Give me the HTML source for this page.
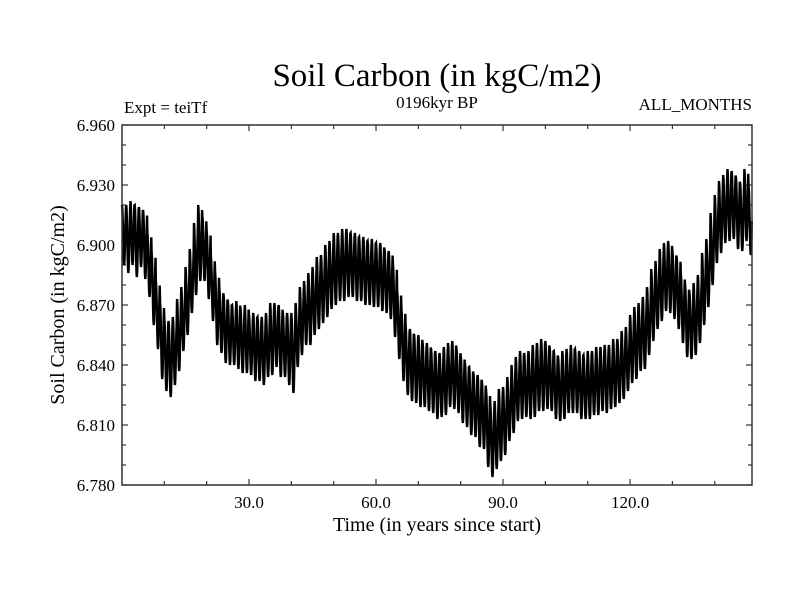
<!DOCTYPE html>
<html><head><meta charset="utf-8"><style>
html,body{margin:0;padding:0;background:#fff;}
svg{display:block;font-family:"Liberation Serif",serif;}
</style></head><body>
<svg id="chart" width="800" height="600" viewBox="0 0 800 600">
<rect x="0" y="0" width="800" height="600" fill="#fff"/>
<text x="437" y="86" font-size="33" text-anchor="middle">Soil Carbon (in kgC/m2)</text>
<text x="124" y="113" font-size="17">Expt = teiTf</text>
<text x="437" y="108" font-size="17" text-anchor="middle">0196kyr BP</text>
<text x="752" y="110" font-size="17" text-anchor="end">ALL_MONTHS</text>
<text transform="translate(64,305) rotate(-90)" font-size="20" text-anchor="middle">Soil Carbon (in kgC/m2)</text>
<text x="437" y="531" font-size="20" text-anchor="middle">Time (in years since start)</text>
<g id="ticks"></g>
<g id="series"></g>
<rect x="122" y="125" width="630" height="360" fill="none" stroke="#333" stroke-width="1.5"/>
</svg>
<script>
const annualMean = [6.905,6.903,6.906,6.902,6.904,6.900,
6.890,6.878,6.865,6.852,6.845,
6.843,6.847,6.855,6.863,6.872,
6.882,6.893,6.901,6.898,6.890,
6.878,6.868,6.862,6.858,6.856,
6.855,6.855,6.852,6.853,6.850,
6.849,6.848,6.847,6.850,6.853,
6.855,6.852,6.850,6.848,6.846,
6.855,6.862,6.866,6.868,6.872,
6.876,6.878,6.882,6.885,6.888,
6.889,6.890,6.891,6.890,6.889,
6.888,6.887,6.886,6.886,6.885,
6.884,6.882,6.880,6.872,6.860,
6.850,6.842,6.840,6.838,6.837,
6.835,6.834,6.832,6.830,6.830,
6.832,6.835,6.835,6.832,6.828,
6.825,6.822,6.820,6.817,6.815,
6.808,6.802,6.805,6.810,6.812,
6.818,6.823,6.828,6.830,6.830,
6.830,6.832,6.834,6.835,6.835,
6.833,6.830,6.828,6.830,6.832,
6.833,6.832,6.830,6.829,6.830,
6.831,6.832,6.833,6.833,6.834,
6.836,6.837,6.840,6.843,6.848,
6.851,6.854,6.856,6.862,6.870,
6.875,6.880,6.884,6.884,6.880,
6.876,6.868,6.862,6.860,6.863,
6.868,6.878,6.886,6.898,6.908,
6.914,6.918,6.920,6.920,6.916,
6.914,6.920,6.912];
const annualHalfRange = [0.015,0.017,0.016,0.018,0.015,0.017,
0.016,0.018,0.017,0.019,0.018,0.019,0.017,0.018,0.016,0.017,
0.016,0.018,0.019,0.016,0.017,0.016,0.018,0.016,0.017,0.016,
0.015,0.017,0.016,0.017,0.015,0.017,0.016,0.017,0.016,0.018,
0.016,0.018,0.016,0.018,0.020,0.016,0.017,0.016,0.018,0.017,
0.018,0.017,0.018,0.017,0.018,0.017,0.018,0.017,0.016,0.017,
0.016,0.017,0.016,0.017,0.016,0.017,0.016,0.017,0.018,0.017,
0.018,0.017,0.018,0.017,0.018,0.016,0.017,0.016,0.017,0.016,
0.017,0.016,0.017,0.016,0.017,0.016,0.017,0.016,0.018,0.017,
0.019,0.018,0.017,0.018,0.017,0.016,0.017,0.016,0.017,0.016,
0.017,0.018,0.017,0.018,0.017,0.016,0.017,0.016,0.017,0.016,
0.017,0.016,0.017,0.016,0.017,0.016,0.017,0.016,0.017,0.016,
0.017,0.016,0.017,0.016,0.017,0.018,0.017,0.018,0.017,0.018,
0.017,0.018,0.017,0.018,0.017,0.018,0.017,0.018,0.017,0.018,
0.017,0.018,0.017,0.018,0.017,0.018,0.017,0.018,0.017,0.018,
0.017,0.018,0.017];
const yTickLabels = ["6.780","6.810","6.840","6.870","6.900","6.930","6.960"];
const xTickLabels = ["30.0","60.0","90.0","120.0"];

const X0=122, X1=752, Y0=485, Y1=125;
const xMin=0, xMax=148.8, yMin=6.780, yMax=6.960;
function sx(t){return X0+(t-xMin)/(xMax-xMin)*(X1-X0);}
function sy(v){return Y0-(v-yMin)/(yMax-yMin)*(Y0-Y1);}
const NS="http://www.w3.org/2000/svg";
const svg=document.getElementById('chart');
const tg=document.getElementById('ticks');
function mk(tag,attrs,parent){const e=document.createElementNS(NS,tag);for(const k in attrs)e.setAttribute(k,attrs[k]);parent.appendChild(e);return e;}

for(let v=yMin; v<=yMax+1e-9; v+=0.010){
  const major=Math.abs(((v-yMin)/0.030)-Math.round((v-yMin)/0.030))<1e-6;
  const len=major?6:4;
  const y=sy(v);
  const l=mk('line',{x1:X0,y1:y,x2:X0+len,y2:y,stroke:'#333','stroke-width':1.2},tg);
  
  
  const r=mk('line',{x1:X1,y1:y,x2:X1-len,y2:y,stroke:'#333','stroke-width':1.2},tg);
  
  
}
yTickLabels.forEach(s=>{
  const t=mk('text',{x:X0-7,y:sy(parseFloat(s))+6,'font-size':17,'text-anchor':'end'},svg);
  t.textContent=s;
  
  
});
for(let t=10; t<xMax; t+=10){
  const major=t%30===0;
  const len=major?6:4;
  const x=sx(t);
  const b=mk('line',{x1:x,y1:Y0,x2:x,y2:Y0-len,stroke:'#333','stroke-width':1.2},tg);
  
  
  const u=mk('line',{x1:x,y1:Y1,x2:x,y2:Y1+len,stroke:'#333','stroke-width':1.2},tg);
  
  
}
xTickLabels.forEach(s=>{
  const t=mk('text',{x:sx(parseFloat(s)),y:Y0+23,'font-size':17,'text-anchor':'middle'},svg);
  t.textContent=s;
  
  
});
let d='';
annualMean.forEach((m,yr)=>{
  const h=annualHalfRange[yr];
  for(let mo=0;mo<12;mo++){
    const t=yr+mo/12;
    if(t>xMax) break;
    const v=m+h*Math.cos(2*Math.PI*mo/12);
    d+=(d?'L':'M')+sx(t).toFixed(2)+','+sy(v).toFixed(2);
  }
});
const path=mk('path',{d:d,fill:'none',stroke:'#000','stroke-width':2.4,'stroke-linejoin':'miter'},document.getElementById('series'));


</script>
</body></html>
